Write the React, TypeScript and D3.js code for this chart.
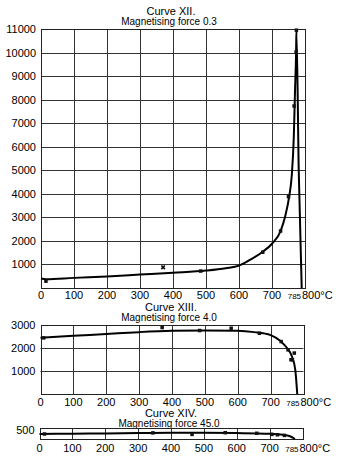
import React, { useRef, useEffect } from 'react';
import * as d3 from 'd3';

const FONT = '"Liberation Sans", Arial, Helvetica, sans-serif';

// shared x axis (temperature, °C)
const tempTicks = [0, 100, 200, 300, 400, 500, 600, 700];
const criticalTick = 785;
const endTickLabel = '800°C';

// Curve XII, magnetising force 0.3
const titlesXII = ['Curve XII.', 'Magnetising force 0.3'];
const yTicksXII = [1000, 2000, 3000, 4000, 5000, 6000, 7000, 8000, 9000, 10000, 11000];
const lineXII = [
  [0, 400], [15, 370], [100, 430], [200, 490], [300, 570], [400, 650], [500, 740],
  [560, 840], [600, 950], [640, 1250], [670, 1520], [700, 1880], [726, 2420], [740, 3050],
  [752, 3880], [760, 4800], [766, 6400], [770, 8500], [773, 10000], [774, 10950],
  [781, 5000], [790, 0],
];
const pointsXII = [
  [15, 290], [484, 720], [672, 1520], [726, 2420], [750, 3880], [767, 7730], [773, 10020], [774, 10950],
];
const crossesXII = [[370, 880]];

// Curve XIII, magnetising force 4.0
const titlesXIII = ['Curve XIII.', 'Magnetising force 4.0'];
const yTicksXIII = [1000, 2000, 3000];
const lineXIII = [
  [0, 2450], [100, 2530], [200, 2610], [300, 2690], [400, 2745], [500, 2760], [600, 2750],
  [650, 2690], [700, 2560], [730, 2300], [750, 2000], [765, 1630], [775, 1050], [781, 0],
];
const pointsXIII = [
  [10, 2440], [370, 2890], [484, 2760], [580, 2860], [666, 2640], [732, 2280],
  [753, 1920], [762, 1490], [766, 1490], [772, 1780],
];

// Curve XIV, magnetising force 45.0
const titlesXIV = ['Curve XIV.', 'Magnetising force 45.0'];
const yTicksXIV = [500];
const lineXIV = [
  [0, 418], [100, 425], [200, 432], [300, 440], [400, 449], [500, 445], [600, 440],
  [700, 425], [740, 400], [760, 370], [777, 300],
];
const pointsXIV = [
  [15, 418], [345, 445], [464, 410], [565, 449], [661, 435], [707, 410], [724, 400], [745, 385],
];

const panels = [
  {
    titles: titlesXII, yTicks: yTicksXII, line: lineXII, points: pointsXII, crosses: crossesXII,
    yDomain: [0, 11000], left: 41, right: 305, top: 29, bottom: 288, titleY: 14.5, xLabelGap: 10.5,
    hGrid: true,
  },
  {
    titles: titlesXIII, yTicks: yTicksXIII, line: lineXIII, points: pointsXIII, crosses: [],
    yDomain: [0, 3000], left: 40.5, right: 303.5, top: 325, bottom: 394, titleY: 310.5, xLabelGap: 11.5,
    hGrid: true,
  },
  {
    titles: titlesXIV, yTicks: yTicksXIV, line: lineXIV, points: pointsXIV, crosses: [],
    yDomain: [300, 560], left: 39.5, right: 302.5, top: 428, bottom: 439, titleY: 416.5, xLabelGap: 12.5,
    hGrid: false,
  },
];

const crisp = (v: number) => Math.round(v) + 0.5;

function drawPanel(svg: any, p: any) {
  const x = d3.scaleLinear().domain([0, 800]).range([p.left, p.right]);
  const y = d3.scaleLinear().domain(p.yDomain).range([p.bottom, p.top]);
  const g = svg.append('g').style('font-family', FONT);

  // titles
  g.append('text')
    .attr('x', 171)
    .attr('y', p.titleY)
    .attr('text-anchor', 'middle')
    .style('font-size', '11px')
    .text(p.titles[0]);
  g.append('text')
    .attr('x', 169)
    .attr('y', p.titleY + 10)
    .attr('text-anchor', 'middle')
    .style('font-size', '10px')
    .text(p.titles[1]);

  // vertical grid
  g.selectAll('.vgrid')
    .data(tempTicks.filter(t => t > 0))
    .enter()
    .append('line')
    .attr('x1', d => crisp(x(d)))
    .attr('x2', d => crisp(x(d)))
    .attr('y1', p.top)
    .attr('y2', p.bottom)
    .attr('stroke', '#333')
    .attr('stroke-width', 1);

  // horizontal grid
  if (p.hGrid) {
    g.selectAll('.hgrid')
      .data(p.yTicks.filter((v: number) => y(v) > p.top + 1))
      .enter()
      .append('line')
      .attr('x1', p.left)
      .attr('x2', p.right)
      .attr('y1', (d: number) => crisp(y(d)))
      .attr('y2', (d: number) => crisp(y(d)))
      .attr('stroke', '#333')
      .attr('stroke-width', 1);
  }

  // frame
  g.append('rect')
    .attr('x', crisp(p.left))
    .attr('y', crisp(p.top))
    .attr('width', Math.round(p.right) - Math.round(p.left))
    .attr('height', Math.round(p.bottom) - Math.round(p.top))
    .attr('fill', 'none')
    .attr('stroke', '#222')
    .attr('stroke-width', 1);

  // y labels
  g.selectAll('.ylab')
    .data(p.yTicks)
    .enter()
    .append('text')
    .attr('x', p.left - 5)
    .attr('y', (d: number) => y(d))
    .attr('dy', '0.36em')
    .attr('text-anchor', 'end')
    .style('font-size', '11px')
    .text((d: number) => d);

  // x labels
  const xLabelY = p.bottom + p.xLabelGap;
  g.selectAll('.xlab')
    .data(tempTicks)
    .enter()
    .append('text')
    .attr('x', d => x(d))
    .attr('y', xLabelY)
    .attr('text-anchor', 'middle')
    .style('font-size', '11px')
    .text(d => d);
  g.append('text')
    .attr('x', x(criticalTick) + 1)
    .attr('y', xLabelY)
    .attr('text-anchor', 'end')
    .style('font-size', '8px')
    .text(criticalTick);
  g.append('text')
    .attr('x', x(800) - 3)
    .attr('y', xLabelY)
    .attr('text-anchor', 'start')
    .style('font-size', '11px')
    .text(endTickLabel);

  // curve
  const line = d3.line()
    .x((d: any) => x(d[0]))
    .y((d: any) => y(d[1]))
    .curve(d3.curveMonotoneX);
  g.append('path')
    .datum(p.line)
    .attr('d', line)
    .attr('fill', 'none')
    .attr('stroke', '#000')
    .attr('stroke-width', 2)
    .attr('stroke-linejoin', 'round');

  // observed points
  g.selectAll('.pt')
    .data(p.points)
    .enter()
    .append('rect')
    .attr('x', (d: any) => x(d[0]) - 1.75)
    .attr('y', (d: any) => y(d[1]) - 1.75)
    .attr('width', 3.5)
    .attr('height', 3.5)
    .attr('fill', '#111');

  const cross = d3.symbol().type(d3.symbolCross).size(14);
  g.selectAll('.cross')
    .data(p.crosses)
    .enter()
    .append('path')
    .attr('d', cross)
    .attr('transform', (d: any) => `translate(${x(d[0])},${y(d[1])}) rotate(45)`)
    .attr('fill', '#111');
}

const App = () => {
  const svgRef = useRef<SVGSVGElement>(null);

  useEffect(() => {
    const svg = d3.select(svgRef.current);
    svg.selectAll('*').remove();
    panels.forEach(p => drawPanel(svg, p));
  }, []);

  return (
    <svg
      ref={svgRef}
      width={354}
      height={467}
      style={{ position: 'absolute', left: 0, top: 0, background: '#fff' }}
    />
  );
};

export default App;
